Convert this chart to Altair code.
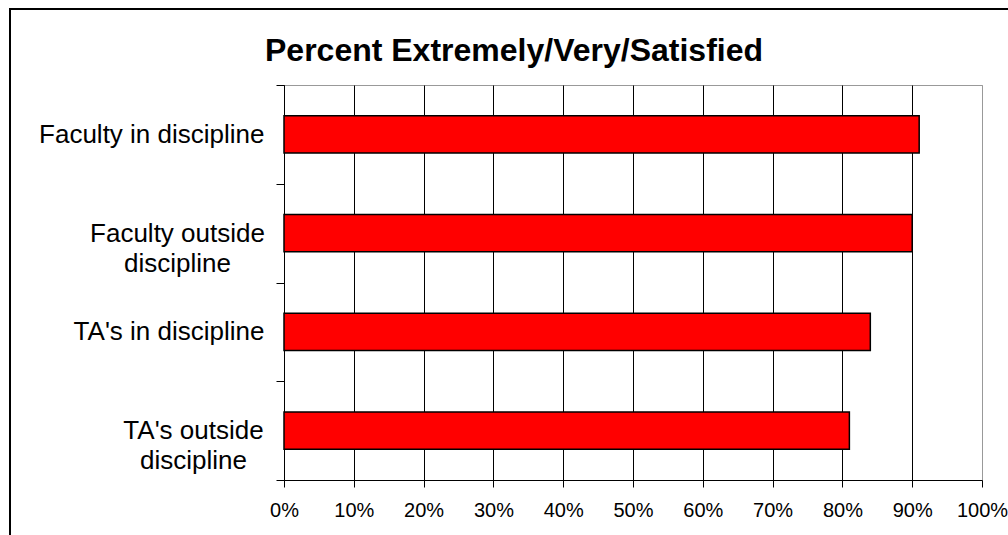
import altair as alt
import pandas as pd

# ---- data ----
categories = [
    "Faculty in discipline",
    "Faculty outside\ndiscipline",
    "TA's in discipline",
    "TA's outside\ndiscipline",
]
values = [0.91, 0.90, 0.84, 0.81]
tick_values = [0.0, 0.1, 0.2, 0.3, 0.4, 0.5, 0.6, 0.7, 0.8, 0.9, 1.0]
title_text = "Percent Extremely/Very/Satisfied"

FONT = "Liberation Sans"

df = pd.DataFrame({"group": categories, "pct": values})
frame_df = pd.DataFrame({"k": [0]})
title_df = pd.DataFrame({"t": [title_text]})

x_axis = alt.Axis(
    values=tick_values,
    format=".0%",
    title=None,
    grid=True,
    gridColor={"condition": {"test": "datum.value >= 1", "value": "#999999"}, "value": "black"},
    gridWidth=1,
    domainColor="black",
    domainWidth=1,
    tickColor="black",
    tickSize=7,
    labelFont=FONT,
    labelFontSize=20,
    labelColor="black",
    labelPadding=13,
    labelFlush=False,
)

y_axis = alt.Axis(
    title=None,
    tickBand="extent",
    domainColor="black",
    domainWidth=1,
    tickColor="black",
    tickSize=8,
    grid=False,
    labelFont=FONT,
    labelFontSize=26,
    labelColor="black",
    labelLimit=400,
    labelLineHeight=30,
    labelBaseline="middle",
    labelExpr="split(datum.label, '\\n')",
    labelAlign={"condition": {"test": "indexof(datum.label, '\\n') >= 0", "value": "center"}, "value": "right"},
    labelPadding={
        "condition": [
            {"test": "indexof(datum.label, 'Faculty outside') >= 0", "value": 99},
            {"test": "indexof(datum.label, 's outside') >= 0", "value": 83},
        ],
        "value": 12,
    },
)

bars = alt.Chart(df).mark_bar(
    fill="#ff0000",
    stroke="black",
    strokeWidth=1.5,
    height=alt.RelativeBandSize(0.375),
).encode(
    x=alt.X("pct:Q", scale=alt.Scale(domain=[0, 1], nice=False), axis=x_axis),
    y=alt.Y("group:N", sort=categories,
            scale=alt.Scale(paddingInner=0, paddingOuter=0), axis=y_axis),
)

# chart title, centred over the whole chart area
title = alt.Chart(title_df).mark_text(
    font=FONT, fontSize=32, fontWeight="bold", color="black",
    align="center", baseline="alphabetic",
).encode(text="t:N", x=alt.value(230), y=alt.value(-24))

# outer chart frame (top and left edges visible in the reference)
frame_top = alt.Chart(frame_df).mark_rule(color="black", strokeWidth=2).encode(
    x=alt.value(-274), x2=alt.value(740), y=alt.value(-76)
)
frame_left = alt.Chart(frame_df).mark_rule(color="black", strokeWidth=2).encode(
    x=alt.value(-274), y=alt.value(-77), y2=alt.value(470)
)

chart = alt.layer(bars, title, frame_top, frame_left).properties(
    width=698,
    height=395,
    autosize=alt.AutoSizeParams(type="none"),
    padding={"left": 284, "top": 85, "right": 26, "bottom": 55},
    background="white",
).configure_view(stroke="#999999", strokeWidth=1)

chart.save("out.html", embed_options={"renderer": "svg", "actions": False})
